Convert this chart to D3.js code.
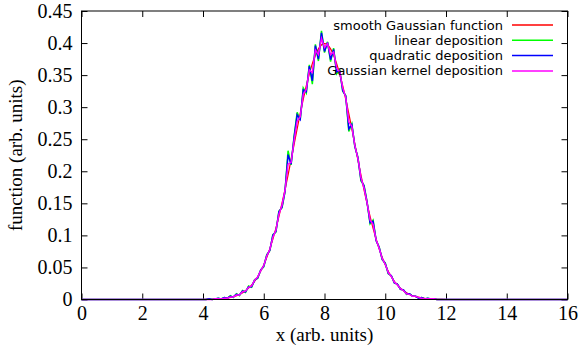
<!DOCTYPE html>
<html>
<head>
<meta charset="utf-8">
<script src="https://cdn.jsdelivr.net/npm/d3@7"></script>
<style>
  body { margin: 0; background: #fff; }
  svg { display: block; }
</style>
</head>
<body>
<script>
// values
const smoothX = d3.range(4, 12.01, 0.2);
const smoothY = [0, 0.0003, 0.0006, 0.0012, 0.0024, 0.0044, 0.0079, 0.0136, 0.0224, 0.0355,
  0.054, 0.079, 0.111, 0.150, 0.194, 0.242, 0.290, 0.333, 0.368, 0.391,
  0.399, 0.391, 0.368, 0.333, 0.290, 0.242, 0.194, 0.150, 0.111, 0.079,
  0.054, 0.0355, 0.0224, 0.0136, 0.0079, 0.0044, 0.0024, 0.0012, 0.0006, 0.0003, 0];

const depX = d3.range(4, 12.01, 0.1);
const linearY = [0, 0, 0.001, 0, 0.001, 0.002, 0.001, 0.003, 0.002, 0.006,
  0.003, 0.009, 0.006, 0.014, 0.011, 0.021, 0.019, 0.031, 0.033, 0.046,
  0.051, 0.070, 0.076, 0.101, 0.105, 0.138, 0.143, 0.168, 0.232, 0.210,
  0.255, 0.292, 0.280, 0.330, 0.322, 0.366, 0.336, 0.398, 0.372, 0.419,
  0.385, 0.402, 0.371, 0.392, 0.352, 0.358, 0.325, 0.318, 0.262, 0.274,
  0.238, 0.222, 0.185, 0.178, 0.153, 0.118, 0.124, 0.092, 0.082, 0.062,
  0.057, 0.040, 0.037, 0.026, 0.024, 0.016, 0.015, 0.008, 0.009, 0.005,
  0.005, 0.002, 0.003, 0.001, 0.002, 0.001, 0.001, 0, 0, 0, 0];
const quadraticY = [0, 0, 0.001, 0, 0.001, 0.002, 0.001, 0.003, 0.002, 0.005,
  0.004, 0.008, 0.007, 0.013, 0.012, 0.020, 0.020, 0.030, 0.034, 0.046,
  0.052, 0.069, 0.077, 0.100, 0.106, 0.137, 0.144, 0.169, 0.226, 0.211,
  0.253, 0.288, 0.281, 0.327, 0.324, 0.364, 0.341, 0.396, 0.375, 0.416,
  0.387, 0.401, 0.374, 0.390, 0.355, 0.357, 0.326, 0.317, 0.266, 0.273,
  0.239, 0.221, 0.187, 0.177, 0.152, 0.120, 0.122, 0.092, 0.081, 0.063,
  0.056, 0.041, 0.037, 0.026, 0.024, 0.016, 0.015, 0.009, 0.009, 0.005,
  0.005, 0.002, 0.003, 0.001, 0.002, 0.001, 0.001, 0, 0, 0, 0];
const kernelY = [0, 0, 0, 0, 0.001, 0.001, 0.001, 0.002, 0.002, 0.004,
  0.004, 0.007, 0.007, 0.012, 0.013, 0.019, 0.021, 0.030, 0.035, 0.045,
  0.053, 0.068, 0.078, 0.097, 0.108, 0.133, 0.147, 0.170, 0.211, 0.214,
  0.248, 0.278, 0.285, 0.320, 0.328, 0.358, 0.354, 0.389, 0.382, 0.407,
  0.393, 0.399, 0.382, 0.386, 0.361, 0.355, 0.330, 0.315, 0.277, 0.270,
  0.240, 0.220, 0.190, 0.174, 0.151, 0.124, 0.117, 0.093, 0.080, 0.064,
  0.055, 0.042, 0.036, 0.027, 0.023, 0.017, 0.014, 0.009, 0.008, 0.005,
  0.005, 0.003, 0.002, 0.001, 0.001, 0.001, 0.001, 0, 0, 0, 0];

const xTicks = [0, 2, 4, 6, 8, 10, 12, 14, 16];
const yTicks = [0, 0.05, 0.1, 0.15, 0.2, 0.25, 0.3, 0.35, 0.4, 0.45];

const series = [
  {name: "smooth Gaussian function", color: "#ff0000", x: smoothX, y: smoothY, smooth: true},
  {name: "linear deposition", color: "#00ff00", x: depX, y: linearY},
  {name: "quadratic deposition", color: "#0000ff", x: depX, y: quadraticY},
  {name: "Gaussian kernel deposition", color: "#ff00ff", x: depX, y: kernelY}
];

const width = 584, height = 357;
const plotL = 81.5, plotR = 567.5, plotT = 11, plotB = 299.5;

const svg = d3.select("body").append("svg")
  .attr("width", width)
  .attr("height", height);

const x = d3.scaleLinear().domain([0, 16]).range([plotL, plotR]);
const y = d3.scaleLinear().domain([0, 0.45]).range([plotB, plotT]);

const serif = "'Liberation Serif', 'Times New Roman', serif";

// ticks on all four sides, pointing in
const tickLen = 6;
svg.append("g").attr("transform", `translate(0,${plotB})`)
  .call(d3.axisBottom(x).tickValues(xTicks).tickSizeInner(-tickLen).tickSizeOuter(0).tickPadding(6).tickFormat(d3.format("d")))
  .call(g => g.select(".domain").remove())
  .call(g => g.selectAll("text").attr("font-family", serif).attr("font-size", 20).attr("fill", "#000"));
svg.append("g").attr("transform", `translate(0,${plotT})`)
  .call(d3.axisTop(x).tickValues(xTicks).tickSizeInner(-tickLen).tickSizeOuter(0).tickFormat(""))
  .call(g => g.select(".domain").remove());
svg.append("g").attr("transform", `translate(${plotL},0)`)
  .call(d3.axisLeft(y).tickValues(yTicks).tickSizeInner(-tickLen).tickSizeOuter(0).tickPadding(9).tickFormat(d => d === 0 ? "0" : String(+d.toFixed(2))))
  .call(g => g.select(".domain").remove())
  .call(g => g.selectAll("text").attr("font-family", serif).attr("font-size", 20).attr("fill", "#000"));
svg.append("g").attr("transform", `translate(${plotR},0)`)
  .call(d3.axisRight(y).tickValues(yTicks).tickSizeInner(-tickLen).tickSizeOuter(0).tickFormat(""))
  .call(g => g.select(".domain").remove());

// curves
series.forEach(s => {
  const pts = [[0, 0]].concat(s.x.map((v, i) => [v, s.y[i]]), [[16, 0]]);
  const line = d3.line()
    .x(d => x(d[0]))
    .y(d => y(d[1]))
    .curve(s.smooth ? d3.curveMonotoneX : d3.curveLinear);
  svg.append("path")
    .datum(pts)
    .attr("fill", "none")
    .attr("stroke", s.color)
    .attr("stroke-width", s.smooth ? 1.2 : 1.5)
    .attr("stroke-linejoin", "miter")
    .attr("d", line);
});

// border
svg.append("rect")
  .attr("x", plotL).attr("y", plotT)
  .attr("width", plotR - plotL).attr("height", plotB - plotT)
  .attr("fill", "none").attr("stroke", "#000").attr("stroke-width", 1);

// key
const key = svg.append("g").attr("font-family", "'DejaVu Sans', sans-serif").attr("font-size", 13);
series.forEach((s, i) => {
  const ky = 25 + i * 15.3;
  key.append("text")
    .attr("x", 503).attr("y", ky).attr("dy", "0.35em")
    .attr("text-anchor", "end")
    .text(s.name);
  key.append("line")
    .attr("x1", 512).attr("x2", 553)
    .attr("y1", ky).attr("y2", ky)
    .attr("stroke", s.color).attr("stroke-width", 1.5);
});

// axis titles
svg.append("text")
  .attr("x", x(8)).attr("y", 341)
  .attr("text-anchor", "middle")
  .attr("font-family", serif).attr("font-size", 19)
  .text("x (arb. units)");
svg.append("text")
  .attr("transform", `translate(22,${(plotT + plotB) / 2}) rotate(-90)`)
  .attr("text-anchor", "middle")
  .attr("font-family", serif).attr("font-size", 19)
  .text("function (arb. units)");
</script>
</body>
</html>
